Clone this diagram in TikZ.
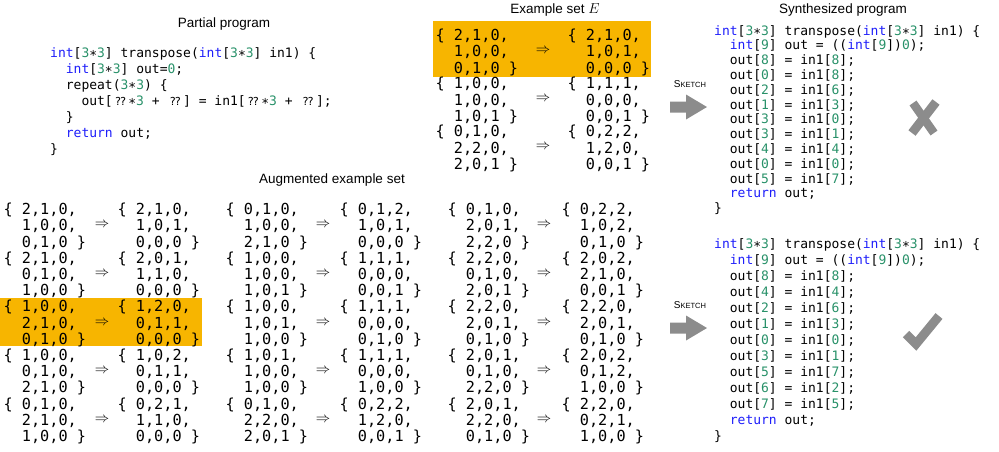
\documentclass[tikz,border=0pt]{standalone}
\usepackage{fontspec}
\setmainfont{Liberation Sans}
\setmonofont{DejaVu Sans Mono}
\newfontfamily\dvsfont{DejaVu Sans}
\usetikzlibrary{positioning}

\definecolor{kwblue}{RGB}{30,30,250}
\definecolor{numgreen}{RGB}{40,145,105}
\definecolor{hilite}{RGB}{247,181,0}
\definecolor{markgray}{RGB}{140,140,140}

\newcommand\kw[1]{\textcolor{kwblue}{#1}}
\newcommand\nm[1]{\textcolor{numgreen}{#1}}
\newcommand\tms{∗}
\newcommand\hole{\makebox[15.6pt]{\dvsfont\fontsize{11}{11}\selectfont ⁇}}
\newcommand\asg[2]{~~out[\nm{#1}] = in1[\nm{#2}];}
\newcommand\tri[1]{\expandafter\trii#1}
\def\trii#1#2#3{#1,#2,#3}
\newcommand\exmat[3]{\{~\tri{#1},\\~~\tri{#2},\\~~\tri{#3}~\}}
\newcommand\sketchtxt{{\fontsize{10}{10}\selectfont S}{\fontsize{7.5}{7.5}\selectfont KETCH}}

\begin{document}
\begin{tikzpicture}[x=1pt,y=-1pt,
    code/.style={anchor=north west,inner sep=0pt,align=left,font=\ttfamily\fontsize{13}{16}\selectfont},
    exm/.style={anchor=north west,inner sep=0pt,align=left,font=\ttfamily\fontsize{15.2}{16.2}\selectfont},
    impl/.style={inner sep=0pt,font=\fontsize{14}{14}\selectfont},
    title/.style={anchor=base,font=\fontsize{13.5}{16}\selectfont},
    sklabel/.style={anchor=base,inner sep=0pt}]

    \useasboundingbox (0,0) rectangle (999,451);

    % highlighted examples
    \fill[hilite] (433,21) rectangle (651,77);
    \fill[hilite] (0,298) rectangle (202,346);

    \node[title] (ptitle) at (224,27) {Partial program};
    \node[title] (etitle) at (555,13) {Example set $E$};
    \node[title] (stitle) at (843,13) {Synthesized program};
    \node[title] (atitle) at (332,183) {Augmented example set};

    \node[code] (partial) at (50,47.5) {%
      \kw{int}[\nm{3}\tms\nm{3}] transpose(\kw{int}[\nm{3}\tms\nm{3}] in1) \{\\
      ~~\kw{int}[\nm{3}\tms\nm{3}] out=\nm{0};\\
      ~~repeat(\nm{3}\tms\nm{3}) \{\\
      ~~~~out[\hole\tms\nm{3} + \hole] = in1[\hole\tms\nm{3} + \hole];\\
      ~~\}\\
      ~~\kw{return} out;\\
      \}};

    % example set E
    \foreach \n/\rw/\ia/\ib/\ic/\oa/\ob/\oc in {
      e1/0/210/100/010/210/101/000,
      e2/1/100/100/101/111/000/001,
      e3/2/010/220/201/022/120/001}
    {
      \node[exm] (\n-in) at (435.4,{29+48.1*\rw}) {\exmat\ia\ib\ic};
      \node[impl] (\n-to) at (543,{51+48.1*\rw}) {$\Rightarrow$};
      \node[exm] (\n-out) at (567.4,{29+48.1*\rw}) {\exmat\oa\ob\oc};
    }

    % augmented example set
    \foreach \n/\cl/\rw/\ia/\ib/\ic/\oa/\ob/\oc in {
      a00/0/0/210/100/010/210/101/000,
      a01/0/1/210/010/100/201/110/000,
      a02/0/2/100/210/010/120/011/000,
      a03/0/3/100/010/210/102/011/000,
      a04/0/4/010/210/100/021/110/000,
      a10/1/0/010/100/210/012/101/000,
      a11/1/1/100/100/101/111/000/001,
      a12/1/2/100/101/100/111/000/010,
      a13/1/3/101/100/100/111/000/100,
      a14/1/4/010/220/201/022/120/001,
      a20/2/0/010/201/220/022/102/010,
      a21/2/1/220/010/201/202/210/001,
      a22/2/2/220/201/010/220/201/010,
      a23/2/3/201/010/220/202/012/100,
      a24/2/4/201/220/010/220/021/100}
    {
      \node[exm] (\n-in) at ({3.4+222*\cl},{203+48.6*\rw}) {\exmat\ia\ib\ic};
      \node[impl] (\n-to) at ({102+221*\cl},{225.2+48.6*\rw}) {$\Rightarrow$};
      \node[exm] (\n-out) at ({117.4+222*\cl},{203+48.6*\rw}) {\exmat\oa\ob\oc};
    }

    % sketch arrows
    \foreach \ay/\nm in {107/sk1,328/sk2} {
      \node[sklabel] (\nm) at (690,{\ay-20}) {\sketchtxt};
      \fill[markgray] (670,{\ay-5.5}) -- (686,{\ay-5.5}) -- (686,{\ay-12.5}) -- (707,\ay)
        -- (686,{\ay+12.5}) -- (686,{\ay+5.5}) -- (670,{\ay+5.5}) -- cycle;
    }

    \node[code,font=\ttfamily\fontsize{13}{14.8}\selectfont] (wrong) at (714,25) {%
      \kw{int}[\nm{3}\tms\nm{3}] transpose(\kw{int}[\nm{3}\tms\nm{3}] in1) \{\\
      ~~\kw{int}[\nm{9}] out = ((\kw{int}[\nm{9}])\nm{0});\\
      \asg88\\
      \asg08\\
      \asg26\\
      \asg13\\
      \asg30\\
      \asg31\\
      \asg44\\
      \asg00\\
      \asg57\\
      ~~\kw{return} out;\\
      \}};

    \node[code] (right) at (714,238) {%
      \kw{int}[\nm{3}\tms\nm{3}] transpose(\kw{int}[\nm{3}\tms\nm{3}] in1) \{\\
      ~~\kw{int}[\nm{9}] out = ((\kw{int}[\nm{9}])\nm{0});\\
      \asg88\\
      \asg44\\
      \asg26\\
      \asg13\\
      \asg00\\
      \asg31\\
      \asg57\\
      \asg62\\
      \asg75\\
      ~~\kw{return} out;\\
      \}};

    % cross and tick
    \draw[markgray,line width=9pt] (912,133) -- (936,102);
    \draw[markgray,line width=8.5pt] (913,103) -- (934,133);
    \draw[markgray,line width=9pt] (906,334) -- (916,344) -- (939,316);

\end{tikzpicture}
\end{document}
